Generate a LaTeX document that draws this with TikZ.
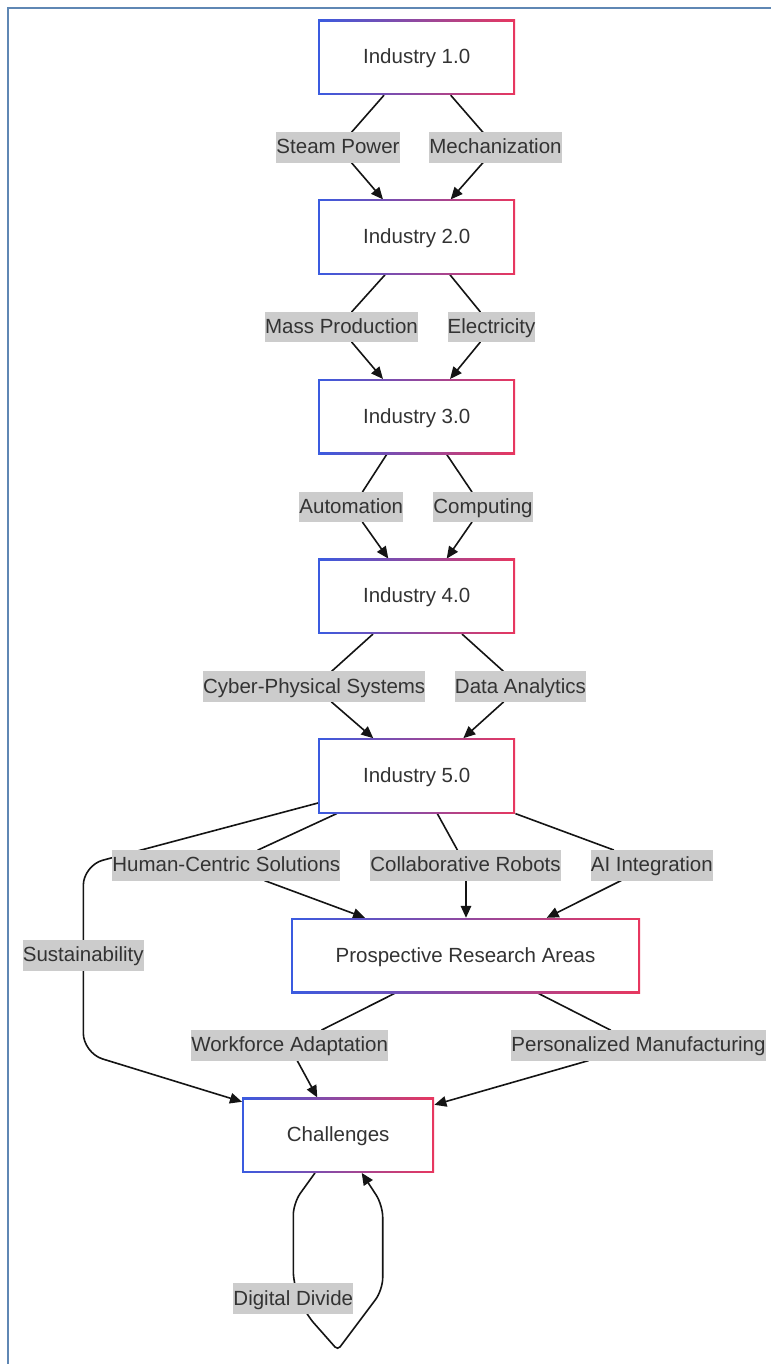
\documentclass[tikz,border=0pt]{standalone}
\usepackage{fontspec}
\setmainfont{Liberation Sans}
\usetikzlibrary{arrows.meta,backgrounds,calc}
\definecolor{txt}{RGB}{51,51,51}
\definecolor{labg}{RGB}{204,204,204}
\definecolor{gl}{RGB}{58,91,224}
\definecolor{gr}{RGB}{232,55,95}
\definecolor{framec}{RGB}{95,135,180}
\definecolor{edgec}{RGB}{20,20,20}
\tikzset{
  gbox/.style={minimum width=197pt, minimum height=75pt, inner sep=0pt, text=txt, fill=white,
    text height=17pt, text depth=4pt,
    font=\fontsize{20.5pt}{24pt}\selectfont,
    path picture={
      \shade[left color=gl, right color=gr] (path picture bounding box.south west) rectangle (path picture bounding box.north east);
      \fill[white] ([shift={(1.8pt,1.8pt)}]path picture bounding box.south west) rectangle ([shift={(-1.8pt,-1.8pt)}]path picture bounding box.north east);
    }},
  lab/.style={fill=labg, text=txt, inner xsep=0pt, inner ysep=0pt, text height=17pt, text depth=4pt,
    minimum height=30.5pt, font=\fontsize{20.5pt}{24pt}\selectfont},
  edge/.style={draw=edgec, line width=1.6pt},
  arr/.style={edge, -{Triangle[length=12pt,width=10.5pt]}},
}
\begin{document}
\begin{tikzpicture}[x=1pt,y=-1pt]
\useasboundingbox (0,0) rectangle (771,1364);
% main nodes
\node[gbox] (i1) at (416.7,57.5) {Industry 1.0};
\node[gbox] (i2) at (416.7,237.1) {Industry 2.0};
\node[gbox] (i3) at (416.7,416.7) {Industry 3.0};
\node[gbox] (i4) at (416.7,596.3) {Industry 4.0};
\node[gbox] (i5) at (416.7,775.9) {Industry 5.0};
\node[gbox, minimum width=349pt] (pra) at (465.5,955.5) {Prospective Research Areas};
\node[gbox, minimum width=192pt] (ch) at (338.2,1135.2) {Challenges};
% labels
\node[lab] (sp) at (338,147.5) {Steam Power};
\node[lab] (me) at (495.5,147.5) {Mechanization};
\node[lab] (mp) at (341.5,327) {Mass Production};
\node[lab] (el) at (491.5,327) {Electricity};
\node[lab] (au) at (351.3,507) {Automation};
\node[lab] (co) at (483,507) {Computing};
\node[lab] (cps) at (314.2,686.7) {Cyber-Physical Systems};
\node[lab] (da) at (520.5,686.7) {Data Analytics};
\node[lab] (hcs) at (226.3,865.3) {Human-Centric Solutions};
\node[lab] (cr) at (465.5,865.3) {Collaborative Robots};
\node[lab] (ai) at (651.8,865.3) {AI Integration};
\node[lab] (su) at (83.3,955.3) {Sustainability};
\node[lab] (wa) at (289.7,1045.3) {Workforce Adaptation};
\node[lab] (pm) at (638.5,1045.3) {Personalized Manufacturing};
\node[lab] (dd) at (293.3,1298.7) {Digital Divide};
\begin{scope}[on background layer]
  \fill[white] (0,0) rectangle (771,1364);
  \draw[framec, line width=2.4pt] (8,1364) -- (8,8) -- (771,8);
  \draw[arr] ([xshift=-32.7pt]i1.south) -- ([xshift=13.7pt]sp.north) -- ([xshift=13.7pt]sp.south) -- ([xshift=-33.7pt]i2.north);
  \draw[arr] ([xshift=34pt]i1.south) -- ([xshift=-12.8pt]me.north) -- ([xshift=-12.8pt]me.south) -- ([xshift=34pt]i2.north);
  \draw[arr] ([xshift=-31.7pt]i2.south) -- ([xshift=10.5pt]mp.north) -- ([xshift=10.5pt]mp.south) -- ([xshift=-33.7pt]i3.north);
  \draw[arr] ([xshift=33.3pt]i2.south) -- ([xshift=-11.5pt]el.north) -- ([xshift=-11.5pt]el.south) -- ([xshift=33.3pt]i3.north);
  \draw[arr] ([xshift=-30pt]i3.south) -- ([xshift=11.4pt]au.north) -- ([xshift=11.4pt]au.south) -- ([xshift=-28.4pt]i4.north);
  \draw[arr] ([xshift=30pt]i3.south) -- ([xshift=-11.3pt]co.north) -- ([xshift=-11.3pt]co.south) -- ([xshift=30pt]i4.north);
  \draw[arr] ([xshift=-43.7pt]i4.south) -- ([xshift=17.5pt]cps.north) -- ([xshift=17.5pt]cps.south) -- ([xshift=-43.4pt]i5.north);
  \draw[arr] ([xshift=45.3pt]i4.south) -- ([xshift=-17.2pt]da.north) -- ([xshift=-17.2pt]da.south) -- ([xshift=46.6pt]i5.north);
  \draw[arr, rounded corners=20pt] ([yshift=10.6pt]i5.south west) -- (83.3,865.4) -- (su.north) -- (su.south) -- (83.3,1053) -- ([yshift=-4.3pt]ch.north west);
  \draw[arr] ([xshift=-80pt]i5.south) -- ([xshift=32pt]hcs.north) -- ([xshift=38.7pt]hcs.south) -- ([xshift=-100.5pt]pra.north);
  \draw[arr] ([xshift=20.6pt]i5.south) -- ([xshift=-8.2pt]cr.north) -- ([xshift=0.5pt]cr.south) -- ([xshift=0.5pt]pra.north);
  \draw[arr] (i5.south east) -- ([xshift=-38.5pt]ai.north) -- ([xshift=-31.1pt]ai.south) -- ([xshift=81.2pt]pra.north);
  \draw[arr] ([xshift=-70.5pt]pra.south) -- ([xshift=32.3pt]wa.north) -- ([xshift=7.6pt]wa.south) -- ([xshift=-20.9pt]ch.north);
  \draw[arr] ([xshift=72.5pt]pra.south) -- ([xshift=-28.5pt]pm.north) -- ([xshift=-50.5pt]pm.south) -- ([yshift=-7.3pt]ch.north east);
  \draw[arr, rounded corners=12pt] ([xshift=-23.2pt]ch.south) -- (293.3,1203) -- (dd.north) -- ([xshift=12.7pt]dd.south) [rounded corners=4pt] -- (337.7,1350) [rounded corners=12pt] -- (382.7,1290) -- (382.7,1205) -- ([xshift=23.5pt]ch.south);
\end{scope}
\end{tikzpicture}
\end{document}
